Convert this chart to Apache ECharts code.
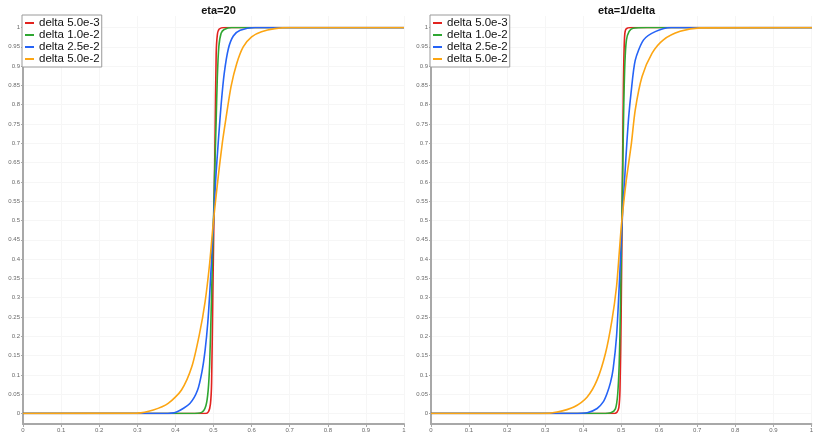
<!DOCTYPE html>
<html>
<head>
<meta charset="utf-8">
<script src="https://cdn.jsdelivr.net/npm/echarts@6/dist/echarts.min.js"></script>
<style>
  html, body { margin: 0; padding: 0; background: #fff; }
  #main { width: 816px; height: 433px; }
</style>
</head>
<body>
<div id="main"></div>
<script type="text/javascript">
    // series names and colours
    var names = ['delta 5.0e-3', 'delta 1.0e-2', 'delta 2.5e-2', 'delta 5.0e-2'];
    var colors = ['#e2231f', '#2fa732', '#2563f6', '#fca512'];

    // left panel: eta=20  (x positions / values)
    var lx_a = [0, 0.478, 0.487, 0.492, 0.495, 0.498, 0.501, 0.504, 0.507, 0.510, 0.515, 0.530, 1];
    var ly_a = [0, 0, 0.005, 0.025, 0.08, 0.29, 0.5, 0.71, 0.93, 0.98, 0.996, 1, 1];
    var lx_b = [0, 0.44, 0.469, 0.480, 0.486, 0.490, 0.494, 0.497, 0.500, 0.503, 0.507, 0.510, 0.514, 0.520, 0.528, 0.548, 1];
    var ly_b = [0, 0, 0.003, 0.02, 0.06, 0.13, 0.27, 0.39, 0.5, 0.62, 0.76, 0.87, 0.95, 0.985, 0.995, 1, 1];
    var lx_c = [0, 0.37, 0.403, 0.438, 0.458, 0.470, 0.478, 0.485, 0.490, 0.495, 0.500, 0.506, 0.513, 0.520, 0.528, 0.539, 0.552, 0.570, 0.609, 1];
    var ly_c = [0, 0, 0.004, 0.026, 0.06, 0.11, 0.164, 0.235, 0.31, 0.40, 0.5, 0.61, 0.71, 0.80, 0.88, 0.945, 0.978, 0.993, 1, 1];
    var lx_d = [0, 0.30, 0.342, 0.381, 0.416, 0.443, 0.463, 0.478, 0.490, 0.500, 0.512, 0.523, 0.532, 0.546, 0.561, 0.578, 0.600, 0.626, 0.661, 0.70, 1];
    var ly_d = [0, 0.001, 0.009, 0.026, 0.061, 0.121, 0.205, 0.29, 0.39, 0.50, 0.61, 0.70, 0.76, 0.847, 0.907, 0.950, 0.976, 0.989, 0.997, 1, 1];

    // right panel: eta=1/delta
    var rx_a = [0, 0.482, 0.488, 0.493, 0.496, 0.499, 0.502, 0.505, 0.508, 0.512, 0.526, 1];
    var ry_a = [0, 0, 0.003, 0.015, 0.06, 0.25, 0.55, 0.85, 0.975, 0.996, 1, 1];
    var rx_b = [0, 0.45, 0.472, 0.484, 0.490, 0.494, 0.497, 0.500, 0.503, 0.506, 0.509, 0.513, 0.520, 0.530, 0.567, 1];
    var ry_b = [0, 0, 0.002, 0.012, 0.05, 0.13, 0.26, 0.45, 0.62, 0.80, 0.91, 0.968, 0.99, 0.998, 1, 1];
    var rx_c = [0, 0.37, 0.41, 0.436, 0.452, 0.462, 0.471, 0.478, 0.487, 0.494, 0.500, 0.504, 0.509, 0.514, 0.519, 0.525, 0.536, 0.558, 0.59, 0.63, 1];
    var ry_c = [0, 0, 0.002, 0.013, 0.03, 0.052, 0.08, 0.115, 0.20, 0.33, 0.46, 0.54, 0.62, 0.70, 0.77, 0.83, 0.915, 0.968, 0.99, 1, 1];
    var rx_d = [0, 0.29, 0.331, 0.375, 0.410, 0.436, 0.458, 0.475, 0.487, 0.494, 0.500, 0.512, 0.526, 0.536, 0.554, 0.580, 0.610, 0.654, 0.706, 1];
    var ry_d = [0, 0, 0.004, 0.017, 0.043, 0.087, 0.156, 0.242, 0.329, 0.415, 0.49, 0.60, 0.70, 0.786, 0.873, 0.933, 0.968, 0.99, 0.999, 1];

    var titles = ['eta=20', 'eta=1/delta'];

    function pairs(xs, ys) {
        var out = [];
        for (var i = 0; i < xs.length; i++) out.push([xs[i], ys[i]]);
        return out;
    }

    var panels = [
        [pairs(lx_a, ly_a), pairs(lx_b, ly_b), pairs(lx_c, ly_c), pairs(lx_d, ly_d)],
        [pairs(rx_a, ry_a), pairs(rx_b, ry_b), pairs(rx_c, ry_c), pairs(rx_d, ry_d)]
    ];
    var panelLeft = [23, 431];

    var font = 'Liberation Sans, Arial, sans-serif';
    var axisGray = '#a8a8a8';
    var gridGray = '#f6f6f6';
    var labelGray = '#6a6a6a';

    var grid = [], xAxis = [], yAxis = [], series = [], legend = [], title = [];

    panels.forEach(function (lines, p) {
        var left = panelLeft[p];
        var outer = p * 2, inner = p * 2 + 1;
        // outer frame: axis lines, x ticks/labels, vertical grid lines
        grid.push({ left: left, top: 16, width: 381, height: 409 });
        // inner plot area: 0..1 in y
        grid.push({ left: left, top: 27.5, width: 381, height: 386 });

        xAxis.push({
            type: 'value', gridIndex: outer, min: 0, max: 1, interval: 0.1,
            axisLine: { show: true, lineStyle: { color: axisGray, width: 2 } },
            axisTick: { show: true, length: 3, lineStyle: { color: axisGray } },
            axisLabel: { fontSize: 6, color: labelGray, margin: 3, fontFamily: font },
            splitLine: { show: true, lineStyle: { color: gridGray } }
        });
        yAxis.push({
            type: 'value', gridIndex: outer, min: 0, max: 1,
            axisLine: { show: true, lineStyle: { color: axisGray, width: 2 } },
            axisTick: { show: false }, axisLabel: { show: false }, splitLine: { show: false }
        });
        xAxis.push({ type: 'value', gridIndex: inner, min: 0, max: 1, show: false });
        yAxis.push({
            type: 'value', gridIndex: inner, min: 0, max: 1, interval: 0.05,
            axisLine: { show: false },
            axisTick: { show: true, length: 2, lineStyle: { color: axisGray } },
            axisLabel: { fontSize: 6, color: labelGray, margin: 3, fontFamily: font },
            splitLine: { show: true, lineStyle: { color: gridGray } }
        });

        lines.forEach(function (d, k) {
            series.push({
                name: names[k], type: 'line', xAxisIndex: inner, yAxisIndex: inner,
                data: d, symbol: 'none', showSymbol: false,
                smooth: 0.25,
                itemStyle: { color: colors[k] },
                lineStyle: { color: colors[k], width: 1.6 },
                animation: false
            });
        });

        legend.push({
            orient: 'vertical', left: left - 1, top: 15,
            data: names, icon: 'rect', itemWidth: 9, itemHeight: 2, itemGap: 0,
            padding: [2, 2, 2, 3],
            backgroundColor: '#fff', borderColor: '#9a9a9a', borderWidth: 1,
            textStyle: { fontSize: 11.5, lineHeight: 12, color: '#111', fontFamily: font },
            selectedMode: false
        });

        title.push({
            text: titles[p], left: left + 190.5, top: 0, textAlign: 'center',
            textStyle: { fontSize: 11, fontWeight: 'bold', color: '#111', fontFamily: font }
        });
    });

    var myChart = echarts.init(document.getElementById('main'));
    var option = {
        animation: false,
        title: title,
        legend: legend,
        grid: grid,
        xAxis: xAxis,
        yAxis: yAxis,
        series: series
    };
    myChart.setOption(option);
</script>
</body>
</html>
